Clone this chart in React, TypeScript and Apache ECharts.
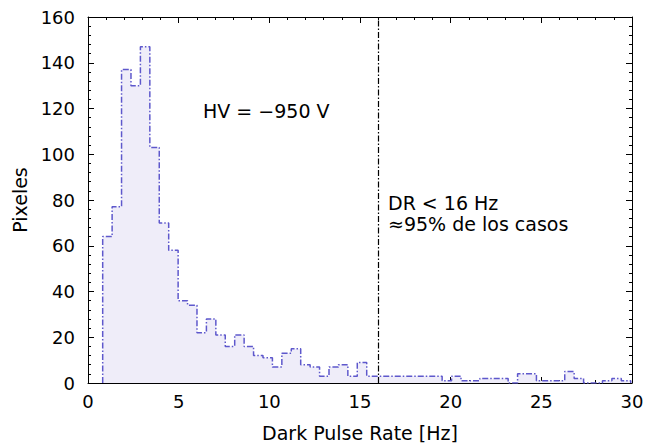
import React, { useEffect, useRef } from "react";
import * as echarts from "echarts";

// Histogram bins (Hz) and pixel counts
const binStart = 0.81;
const binWidth = 0.52;
const counts = [
  64, 77, 137, 130, 147, 103, 70, 58, 36, 34, 22, 28, 21, 16, 21, 16, 12, 11, 7, 13,
  15, 8, 7, 3, 7, 8, 3, 9, 3, 3, 3, 3, 3, 3, 3, 3, 1, 3, 1, 1,
  2, 2, 2, 0, 4, 4, 1, 1, 1, 5, 2, 0, 0, 1, 2, 1,
];
const thresholdHz = 16;
const xTicks = [0, 5, 10, 15, 20, 25, 30];
const yTicks = [0, 20, 40, 60, 80, 100, 120, 140, 160];
const xTitle = "Dark Pulse Rate [Hz]";
const yTitle = "Pixeles";
const note1 = "HV = \u2212950 V";
const note2 = ["DR < 16 Hz", "\u224895% de los casos"];

const FONT = "DejaVu Sans";

export default function App() {
  const ref = useRef<HTMLDivElement>(null);
  useEffect(() => {
    if (!ref.current) return;
    const chart = echarts.init(ref.current, null, { renderer: "svg" });
    const pts: number[][] = [[binStart, 0]];
    counts.forEach((c, i) => {
      const l = binStart + i * binWidth;
      pts.push([l, c]);
      pts.push([l + binWidth, c]);
    });
    pts.push([binStart + counts.length * binWidth, 0]);

    const axisCommon = {
      type: "value" as const,
      axisLine: { show: true, onZero: false, lineStyle: { color: "#000", width: 1 } },
      axisTick: { show: true, inside: true, length: 6, lineStyle: { color: "#000" } },
      minorTick: { show: true, splitNumber: 5, length: 3, lineStyle: { color: "#000" } },
      splitLine: { show: false },
    };
    const xMin = xTicks[0], xMax = xTicks[xTicks.length - 1];
    const yMin = yTicks[0], yMax = yTicks[yTicks.length - 1];
    const xInt = xTicks[1] - xTicks[0];
    const yInt = yTicks[1] - yTicks[0];

    chart.setOption({
      animation: false,
      backgroundColor: "#fff",
      grid: { left: 88, right: 18, top: 17, bottom: 61 },
      xAxis: [
        {
          ...axisCommon,
          min: xMin, max: xMax, interval: xInt,
          name: xTitle, nameLocation: "middle", nameGap: 40,
          nameTextStyle: { fontFamily: FONT, fontSize: 19, color: "#000" },
          axisLabel: { fontFamily: FONT, fontSize: 18, color: "#000", margin: 9 },
        },
        {
          ...axisCommon,
          position: "top",
          min: xMin, max: xMax, interval: xInt,
          axisLabel: { show: false },
        },
      ],
      yAxis: [
        {
          ...axisCommon,
          min: yMin, max: yMax, interval: yInt,
          name: yTitle, nameLocation: "middle", nameGap: 56,
          nameTextStyle: { fontFamily: FONT, fontSize: 19, color: "#000" },
          axisLabel: { fontFamily: FONT, fontSize: 18, color: "#000", margin: 13 },
        },
        {
          ...axisCommon,
          position: "right",
          min: yMin, max: yMax, interval: yInt,
          axisLabel: { show: false },
        },
      ],
      series: [
        {
          type: "line",
          data: pts,
          symbol: "none",
          lineStyle: { color: "#5e58cc", width: 1.5, type: [6, 2, 1.5, 2] },
          areaStyle: { color: "#efedf9", opacity: 1 },
          markLine: {
            silent: true,
            symbol: ["none", "none"],
            label: { show: false },
            lineStyle: { color: "#000", width: 1.2, type: [6, 2, 1.5, 2] },
            data: [{ xAxis: thresholdHz }],
          },
        },
      ],
      graphic: [
        {
          type: "text",
          x: 203,
          y: 111,
          style: { text: note1, font: `19px "${FONT}"`, fill: "#000", verticalAlign: "middle" },
        },
        {
          type: "text",
          x: 388,
          y: 203,
          style: { text: note2[0], font: `19px "${FONT}"`, fill: "#000", verticalAlign: "middle" },
        },
        {
          type: "text",
          x: 388,
          y: 224,
          style: { text: note2[1], font: `19px "${FONT}"`, fill: "#000", verticalAlign: "middle" },
        },
      ],
    });
    return () => chart.dispose();
  }, []);
  return (
    <div
      ref={ref}
      style={{ position: "fixed", left: 0, top: 0, width: 650, height: 447, background: "#fff" }}
    />
  );
}
